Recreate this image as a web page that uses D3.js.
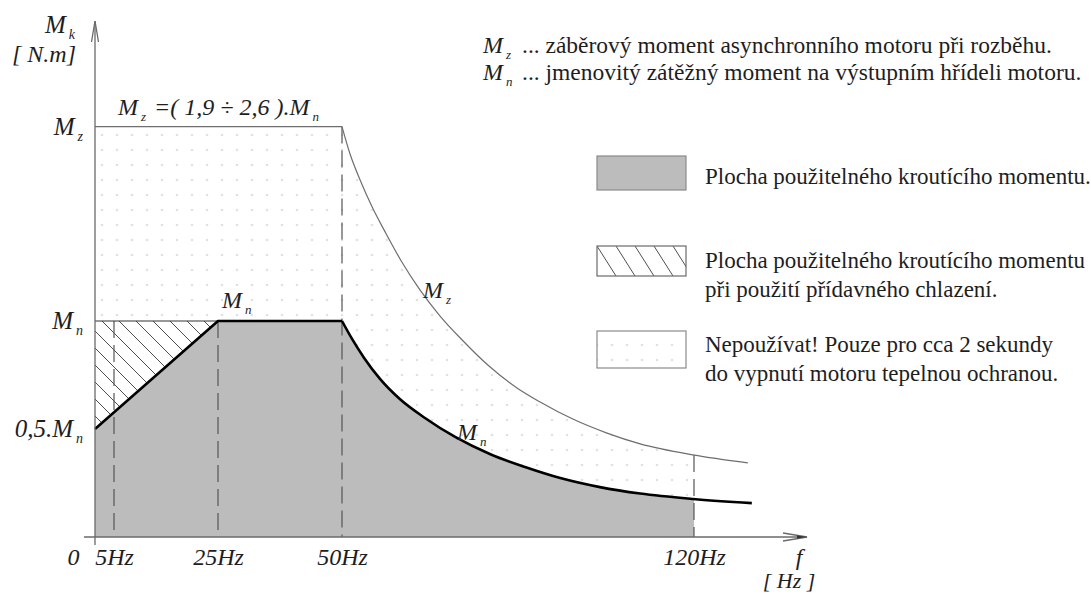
<!DOCTYPE html>
<html>
<head>
<meta charset="utf-8">
<script src="https://cdn.jsdelivr.net/npm/d3@7"></script>
</head>
<body style="margin:0;background:#fff">
<div id="figure-root"></div>
<script>
// x axis: frequency ticks (Hz) and their labels
const freqTicks = [0, 5, 25, 50, 120];
const freqLabels = ["0", "5Hz", "25Hz", "50Hz", "120Hz"];

// y axis: torque in multiples of Mn
const torqueTicks = [0.5, 1, 1.9];
const torqueLabels = [["0,5.M", "n"], ["M", "n"], ["M", "z"]];

// usable torque: linear ramp 0..50 Hz
const rampF = [0, 25, 50];
const rampM = [0.5, 1, 1];

// usable torque above 50 Hz
const mnCurveF = [50, 52, 54.4, 57.6, 61.5, 66.5, 72.5, 79.4, 86.4, 93.4, 101.3, 109.3, 119.8, 131.5];
const mnCurveM = [1.0, 0.917, 0.829, 0.731, 0.639, 0.551, 0.463, 0.384, 0.324, 0.273, 0.231, 0.201, 0.176, 0.157];

// starting torque Mz = 1.9 Mn up to 50 Hz, then falling
const mzFlatF = [0, 50];
const mzFlatM = [1.9, 1.9];
const mzCurveF = [50, 51.6, 53.6, 56, 58.8, 61.9, 65.5, 69.5, 73.9, 79, 84.8, 89.4, 95.9, 102.7, 109.3, 119.8, 130.7];
const mzCurveM = [1.9, 1.773, 1.653, 1.528, 1.403, 1.273, 1.144, 1.023, 0.912, 0.796, 0.69, 0.625, 0.546, 0.481, 0.431, 0.38, 0.343];

// dashed guide lines: frequency and the torque where they start
const guideF = [5, 25, 50, 120];
const guideTop = [1, 1, 1.9, 0.38];

// notes and legend texts
const notes = [["M", "z", "... záběrový moment asynchronního motoru při rozběhu."],
               ["M", "n", "... jmenovitý zátěžný moment na výstupním hřídeli motoru."]];
const legendTexts = [
  ["Plocha použitelného kroutícího momentu."],
  ["Plocha použitelného kroutícího momentu", "při použití přídavného chlazení."],
  ["Nepoužívat! Pouze pro cca 2 sekundy", "do vypnutí motoru tepelnou ochranou."]
];

const width = 1091, height = 594;
const SERIF = 'Liberation Serif';
const zip = (a, b) => a.map((v, i) => [v, b[i]]);

const svg = d3.select('#figure-root').append('svg')
  .attr('width', width)
  .attr('height', height)
  .attr('font-family', SERIF)
  .style('display', 'block');

// schematic (piecewise) frequency scale, as drawn in the original
const x = d3.scaleLinear().domain(freqTicks).range([95, 114, 218, 342, 694]);
const y = d3.scaleLinear().domain([0, 1]).range([537, 321]);

const defs = svg.append('defs');

// dotted fill
const dots = defs.append('pattern')
  .attr('id', 'dots')
  .attr('patternUnits', 'userSpaceOnUse')
  .attr('x', 94.5).attr('y', 127.5)
  .attr('width', 15).attr('height', 15);
dots.append('circle').attr('cx', 7.5).attr('cy', 7.5).attr('r', 0.8).attr('fill', '#a8a8a8');

// hatch for the chart
const hatch = defs.append('pattern')
  .attr('id', 'hatch')
  .attr('patternUnits', 'userSpaceOnUse')
  .attr('x', 102).attr('y', 321)
  .attr('width', 17).attr('height', 17);
hatch.append('path')
  .attr('d', 'M0,0L17,17M-2,15L2,19M15,-2L19,2')
  .attr('stroke', '#3a3a3a').attr('stroke-width', 0.9);

// steeper hatch for the legend box
const hatchL = defs.append('pattern')
  .attr('id', 'hatchL')
  .attr('patternUnits', 'userSpaceOnUse')
  .attr('x', 597).attr('y', 246)
  .attr('width', 19).attr('height', 30);
hatchL.append('path')
  .attr('d', 'M0,0L19,30M-2,27L2,33M17,-3L21,3')
  .attr('stroke', '#3a3a3a').attr('stroke-width', 0.9);

defs.append('clipPath').attr('id', 'clip120')
  .append('rect')
  .attr('x', x(0)).attr('y', 0)
  .attr('width', x(120) - x(0)).attr('height', height);

const plot = svg.append('g');

const areaLin = d3.area().x(d => x(d[0])).y0(y(0)).y1(d => y(d[1]));
const areaCurve = d3.area().curve(d3.curveMonotoneX).x(d => x(d[0])).y0(y(0)).y1(d => y(d[1]));
const lineLin = d3.line().x(d => x(d[0])).y(d => y(d[1]));
const lineCurve = d3.line().curve(d3.curveMonotoneX).x(d => x(d[0])).y(d => y(d[1]));

const mnCurve = zip(mnCurveF, mnCurveM);
const mzCurve = zip(mzCurveF, mzCurveM);
const ramp = zip(rampF, rampM);
const mzFlat = zip(mzFlatF, mzFlatM);

// dotted zone (everything under Mz up to 120 Hz; covered below by the other fills)
const clipped = plot.append('g').attr('clip-path', 'url(#clip120)');
clipped.append('path').attr('d', areaLin(mzFlat)).attr('fill', 'url(#dots)');
clipped.append('path').attr('d', areaCurve(mzCurve)).attr('fill', 'url(#dots)');

// usable torque area
clipped.append('path').attr('d', areaLin(ramp)).attr('fill', '#bcbcbc');
clipped.append('path').attr('d', areaCurve(mnCurve)).attr('fill', '#bcbcbc');

// hatched triangle (extra cooling)
const tri = [[0, 1], [rampF[1], 1], [0, rampM[0]]];
plot.append('path').attr('d', lineLin(tri) + 'Z').attr('fill', '#fff');
plot.append('path').attr('d', lineLin(tri) + 'Z').attr('fill', 'url(#hatch)');

// dashed guides
plot.selectAll('.guide')
  .data(zip(guideF, guideTop))
  .join('line')
  .attr('class', 'guide')
  .attr('x1', d => x(d[0])).attr('x2', d => x(d[0]))
  .attr('y1', d => y(d[1])).attr('y2', y(0))
  .attr('stroke', '#555')
  .attr('stroke-width', 1.2)
  .attr('stroke-dasharray', '17,7');

// Mz line
plot.append('path').attr('d', lineLin(mzFlat)).attr('fill', 'none').attr('stroke', '#6e6e6e').attr('stroke-width', 1.2);
plot.append('path').attr('d', lineCurve(mzCurve)).attr('fill', 'none').attr('stroke', '#6e6e6e').attr('stroke-width', 1.2);

// thin Mn level over the hatch
plot.append('path').attr('d', lineLin([[0, 1], [rampF[1], 1]])).attr('fill', 'none').attr('stroke', '#333').attr('stroke-width', 1);

// thick Mn line
plot.append('path').attr('d', lineLin(ramp)).attr('fill', 'none').attr('stroke', '#000').attr('stroke-width', 2.6).attr('stroke-linejoin', 'round');
plot.append('path').attr('d', lineCurve(mnCurve)).attr('fill', 'none').attr('stroke', '#000').attr('stroke-width', 2.6);

// axes lines with arrows
const axisCol = '#6a6a6a';
const ax = svg.append('g').attr('stroke', axisCol).attr('stroke-width', 1.3).attr('fill', 'none');
const x0 = x(0), yTop = 21, xEnd = 807;
ax.append('line').attr('x1', x0).attr('x2', x0).attr('y1', y(0) + 8).attr('y2', yTop);
ax.append('path').attr('d', `M${x0 - 3.5},${yTop + 21}L${x0},${yTop}L${x0 + 3.5},${yTop + 21}`);
ax.append('line').attr('x1', x0 - 11).attr('x2', xEnd).attr('y1', y(0)).attr('y2', y(0));
ax.append('path').attr('d', `M${xEnd - 24},${y(0) - 4}L${xEnd},${y(0)}L${xEnd - 24},${y(0) + 4}`);
svg.append('path').attr('d', `M${xEnd - 10},${y(0) - 1.6}L${xEnd},${y(0)}L${xEnd - 10},${y(0) + 1.6}Z`).attr('fill', '#333');

// x tick labels
const xAxis = svg.append('g')
  .attr('transform', `translate(0,${y(0)})`)
  .call(d3.axisBottom(x).tickValues(freqTicks).tickFormat((d, i) => freqLabels[i]).tickSize(0).tickPadding(11));
xAxis.select('.domain').remove();
xAxis.attr('font-family', SERIF).attr('font-size', 24);
xAxis.selectAll('text')
  .attr('class', 'math')
  .attr('dx', d => d === 0 ? -22 : 0);

// y tick labels with subscripts
const yAxis = svg.append('g')
  .attr('transform', `translate(${x(0)},0)`)
  .call(d3.axisLeft(y).tickValues(torqueTicks).tickSize(0).tickPadding(12));
yAxis.select('.domain').remove();
yAxis.attr('font-family', SERIF).attr('font-size', 25);
yAxis.selectAll('text').each(function (d, i) {
  const t = d3.select(this).text(null).attr('class', 'math').attr('dy', '0.3em');
  t.append('tspan').text(torqueLabels[i][0]);
  t.append('tspan').attr('dx', 3).attr('dy', 6).attr('font-size', 14).text(torqueLabels[i][1]);
});

// helper for M with subscript
function mathLabel(g, px, py, parts, size, anchor) {
  const t = g.append('text').attr('class', 'math').attr('x', px).attr('y', py)
    .attr('text-anchor', anchor || 'start').attr('font-size', size);
  parts.forEach(p => {
    const s = t.append('tspan').text(p.t);
    if (p.sub) s.attr('dx', 3).attr('dy', 6).attr('font-size', Math.round(size * 0.56));
    if (p.up) s.attr('dx', 2).attr('dy', -6);
  });
  return t;
}

// axis titles
mathLabel(svg, 45, 33, [{ t: 'M' }, { t: 'k', sub: true }], 25);
svg.append('text').attr('class', 'math').attr('x', 12).attr('y', 62).attr('font-size', 24).text('[ N.m]');
svg.append('text').attr('class', 'math').attr('x', 799).attr('y', 565).attr('text-anchor', 'middle').attr('font-size', 24).text('f');
svg.append('text').attr('class', 'math').attr('x', 789).attr('y', 588).attr('text-anchor', 'middle').attr('font-size', 22).text('[ Hz ]');

// formula over the Mz line
mathLabel(svg, 118, 115, [{ t: 'M' }, { t: 'z', sub: true }, { t: ' =( 1,9 ÷ 2,6 ).M', up: true }, { t: 'n', sub: true }], 24);

// curve labels
mathLabel(svg, 222, 308, [{ t: 'M' }, { t: 'n', sub: true }], 24);
mathLabel(svg, 423, 298, [{ t: 'M' }, { t: 'z', sub: true }], 24);
mathLabel(svg, 457, 440, [{ t: 'M' }, { t: 'n', sub: true }], 24);

// notes at top right
notes.forEach((n, i) => {
  const by = 53 + i * 27;
  mathLabel(svg, 483, by, [{ t: n[0] }, { t: n[1], sub: true }], 24);
  svg.append('text').attr('x', 522).attr('y', by).attr('font-size', 23.5).text(n[2]);
});

// legend
const legend = svg.append('g');
const boxes = [
  { y: 156, h: 34, fill: '#bcbcbc', stroke: '#8a8a8a' },
  { y: 246, h: 30, fill: 'url(#hatchL)', stroke: '#6a6a6a' },
  { y: 331, h: 37, fill: 'url(#dots)', stroke: '#8a8a8a' }
];
const textY = [184, 268, 352];
legend.selectAll('rect')
  .data(boxes)
  .join('rect')
  .attr('x', 597).attr('width', 89)
  .attr('y', d => d.y).attr('height', d => d.h)
  .attr('fill', d => d.fill)
  .attr('stroke', d => d.stroke).attr('stroke-width', 1.2);
legendTexts.forEach((lines, i) => {
  lines.forEach((ln, j) => {
    legend.append('text').attr('x', 705).attr('y', textY[i] + j * 29)
      .attr('font-size', 23).text(ln);
  });
});

// serif font everywhere, italics for the math labels
svg.selectAll('text').attr('font-family', SERIF).attr('fill', '#1e1e1e');
svg.selectAll('text.math').attr('font-style', 'italic');
</script>
</body>
</html>
